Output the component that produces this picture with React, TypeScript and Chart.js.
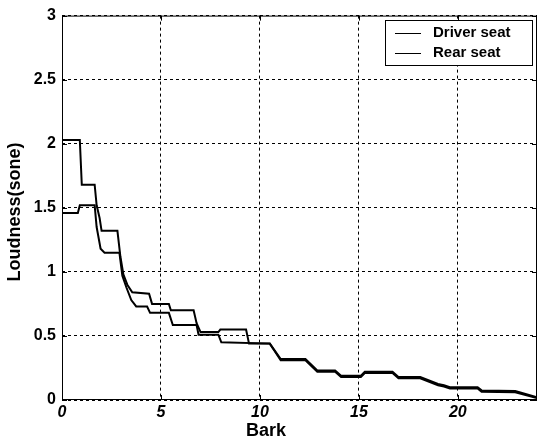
import React, { useEffect, useRef } from "react";
import { Chart, registerables } from "chart.js";

Chart.register(...registerables);

const seriesNames = ["Driver seat", "Rear seat"];
const xTicks = [0, 5, 10, 15, 20];
const yTicks = [0, 0.5, 1, 1.5, 2, 2.5, 3];
const yTickLabels = ["0", "0.5", "1", "1.5", "2", "2.5", "3"];

const driverX = [0, 0.9, 1.0, 1.65, 1.75, 1.9, 2.0, 2.8, 2.95, 3.1, 3.3, 3.55, 4.4, 4.55, 5.4, 5.5, 6.65, 6.8, 7.0, 7.9, 8.0, 9.3, 9.45, 10.5, 11.05, 12.3, 12.9, 13.8, 14.1, 15.1, 15.3, 16.7, 17.0, 18.1, 19.0, 19.3, 19.6, 21.0, 21.2, 22.9, 23.9, 24];
const driverY = [2.03, 2.03, 1.68, 1.68, 1.52, 1.42, 1.32, 1.32, 1.12, 0.98, 0.9, 0.84, 0.83, 0.75, 0.75, 0.7, 0.7, 0.6, 0.53, 0.53, 0.55, 0.55, 0.44, 0.44, 0.32, 0.32, 0.23, 0.23, 0.19, 0.19, 0.22, 0.22, 0.18, 0.18, 0.125, 0.115, 0.1, 0.1, 0.075, 0.07, 0.025, 0.02];

const rearX = [0, 0.8, 0.9, 1.65, 1.75, 1.95, 2.15, 2.9, 3.05, 3.25, 3.5, 3.75, 4.3, 4.45, 5.4, 5.6, 6.8, 6.9, 7.9, 8.05, 10.5, 11.05, 12.3, 12.9, 13.8, 14.1, 15.1, 15.3, 16.7, 17.0, 18.1, 19.0, 19.3, 19.6, 21.0, 21.2, 22.9, 23.9, 24];
const rearY = [1.46, 1.46, 1.52, 1.52, 1.35, 1.18, 1.15, 1.15, 0.97, 0.88, 0.78, 0.73, 0.73, 0.68, 0.68, 0.585, 0.585, 0.51, 0.51, 0.45, 0.44, 0.31, 0.31, 0.22, 0.22, 0.18, 0.18, 0.21, 0.21, 0.17, 0.17, 0.115, 0.105, 0.09, 0.09, 0.065, 0.06, 0.02, 0.015];

const FONT = "'Liberation Sans', Arial, sans-serif";

const framePlugin = {
  id: "frame",
  afterDatasetsDraw(chart: any) {
    const { ctx, chartArea } = chart;
    const { left, right, top, bottom } = chartArea;
    const xs = chart.scales.x;
    const ys = chart.scales.y;
    ctx.save();
    ctx.setLineDash([]);
    ctx.strokeStyle = "#000";
    ctx.lineWidth = 1;
    ctx.strokeRect(left + 0.5, top + 0.5, right - left - 1, bottom - top - 1);
    ctx.beginPath();
    xTicks.forEach((v) => {
      const px = Math.round(xs.getPixelForValue(v)) + 0.5;
      ctx.moveTo(px, bottom);
      ctx.lineTo(px, bottom - 5);
      ctx.moveTo(px, top);
      ctx.lineTo(px, top + 5);
    });
    yTicks.forEach((v) => {
      const py = Math.round(ys.getPixelForValue(v)) + 0.5;
      ctx.moveTo(left, py);
      ctx.lineTo(left + 5, py);
      ctx.moveTo(right, py);
      ctx.lineTo(right - 5, py);
    });
    ctx.stroke();

    // legend
    const bx = 385, by = 20, bw = 147, bh = 45;
    ctx.fillStyle = "#fff";
    ctx.fillRect(bx, by, bw, bh);
    ctx.strokeRect(bx + 0.5, by + 0.5, bw, bh);
    ctx.font = `bold 15px ${FONT}`;
    ctx.fillStyle = "#000";
    ctx.textBaseline = "middle";
    ctx.textAlign = "left";
    const rows = [33, 53];
    seriesNames.forEach((name, i) => {
      ctx.beginPath();
      ctx.lineWidth = 1;
      ctx.moveTo(395, rows[i] + 0.5);
      ctx.lineTo(421, rows[i] + 0.5);
      ctx.stroke();
      ctx.fillText(name, 433, rows[i]);
    });

    // axis titles
    ctx.font = `bold 18px ${FONT}`;
    ctx.textAlign = "center";
    ctx.fillText("Bark", 266, 431);
    ctx.translate(15, 212);
    ctx.rotate(-Math.PI / 2);
    ctx.fillText("Loudness(sone)", 0, 0);
    ctx.restore();
  },
};

export default function App() {
  const ref = useRef<HTMLCanvasElement | null>(null);

  useEffect(() => {
    document.body.style.margin = "0";
    const canvas = ref.current;
    if (!canvas) return;
    const chart = new Chart(canvas, {
      type: "line",
      data: {
        datasets: [
          {
            label: seriesNames[0],
            data: driverX.map((x, i) => ({ x, y: driverY[i] })),
            borderColor: "#000",
            backgroundColor: "#000",
            borderWidth: 2,
            pointRadius: 0,
            tension: 0,
          },
          {
            label: seriesNames[1],
            data: rearX.map((x, i) => ({ x, y: rearY[i] })),
            borderColor: "#000",
            backgroundColor: "#000",
            borderWidth: 2,
            pointRadius: 0,
            tension: 0,
          },
        ],
      },
      options: {
        animation: false,
        responsive: true,
        maintainAspectRatio: false,
        layout: { padding: { top: 15, right: 0, left: 0, bottom: 0 } },
        plugins: { legend: { display: false }, tooltip: { enabled: false } },
        scales: {
          x: {
            type: "linear",
            min: 0,
            max: 24,
            afterBuildTicks: (s: any) => {
              s.ticks = xTicks.map((v) => ({ value: v }));
            },
            afterFit: (s: any) => {
              s.height = 44;
            },
            ticks: {
              color: "#000",
              padding: 3,
              maxRotation: 0,
              font: { family: FONT, size: 16, weight: "bold", style: "italic" },
              callback: (v: any) => String(v),
            },
            grid: { color: "#000", lineWidth: 1, drawTicks: false },
            border: { display: false, dash: [3, 3] },
          },
          y: {
            type: "linear",
            min: 0,
            max: 3,
            afterBuildTicks: (s: any) => {
              s.ticks = yTicks.map((v) => ({ value: v }));
            },
            afterFit: (s: any) => {
              s.width = 62;
            },
            ticks: {
              color: "#000",
              padding: 6,
              font: { family: FONT, size: 16, weight: "bold" },
              callback: (v: any) => {
                const i = yTicks.indexOf(Number(v));
                return i >= 0 ? yTickLabels[i] : String(v);
              },
            },
            grid: { color: "#000", lineWidth: 1, drawTicks: false },
            border: { display: false, dash: [3, 3] },
          },
        },
      },
      plugins: [framePlugin],
    } as any);
    return () => chart.destroy();
  }, []);

  return (
    <div style={{ width: 537, height: 444, position: "relative", background: "#fff" }}>
      <canvas ref={ref} />
    </div>
  );
}
